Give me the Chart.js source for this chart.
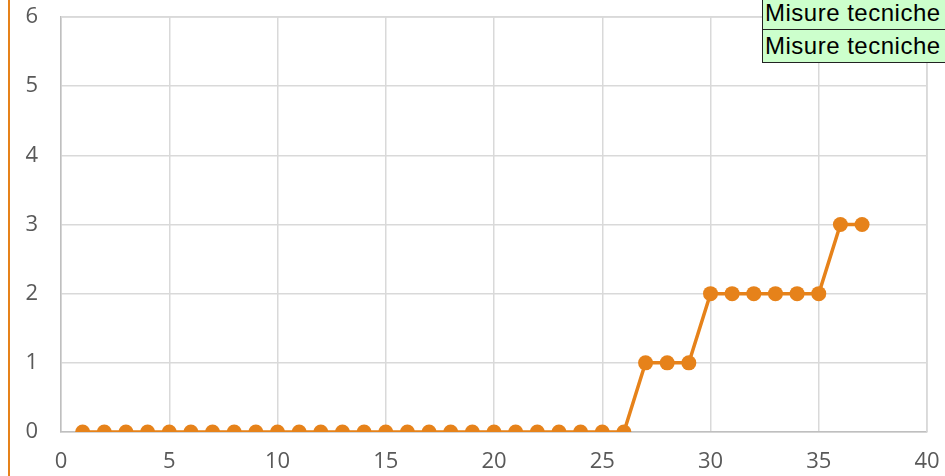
<!DOCTYPE html>
<html>
<head>
<meta charset="utf-8">
<script src="https://cdn.jsdelivr.net/npm/chart.js@4/dist/chart.umd.min.js"></script>
<style>
    html, body { margin: 0; padding: 0; background: #fff; }
    #wrap { position: relative; width: 945px; height: 476px; overflow: hidden; }
    #edge { position: absolute; left: 8px; top: 0; width: 2px; height: 476px; background: #E6821A; }
    .note {
        position: absolute; left: 762px; width: 220px; height: 34px;
        background: #ccffcc; border: 1px solid #222; box-sizing: border-box;
        font-family: "Liberation Sans", Arial, sans-serif; font-size: 24px;
        letter-spacing: 0.5px; line-height: 32px; padding-left: 2px; white-space: nowrap;
        color: #000;
    }
</style>
</head>
<body>
<div id="wrap">
    <canvas id="chart" width="945" height="476"></canvas>
    <div id="edge"></div>
    <div class="note" style="top:-4px">Misure tecniche</div>
    <div class="note" style="top:29px">Misure tecniche</div>
</div>
<script>
// data
const xValues = [1, 2, 3, 4, 5, 6, 7, 8, 9, 10, 11, 12, 13, 14, 15, 16, 17, 18, 19, 20,
                 21, 22, 23, 24, 25, 26, 27, 28, 29, 30, 31, 32, 33, 34, 35, 36, 37];
const yValues = [0, 0, 0, 0, 0, 0, 0, 0, 0, 0, 0, 0, 0, 0, 0, 0, 0, 0, 0, 0,
                 0, 0, 0, 0, 0, 0, 1, 1, 1, 2, 2, 2, 2, 2, 2, 3, 3];
const xTicks = [0, 5, 10, 15, 20, 25, 30, 35, 40];
const yTicks = [0, 1, 2, 3, 4, 5, 6];

const orange = '#E6821A';
const tickFont = { family: 'Open Sans, Lato, sans-serif', size: 22 };

function initChart() {
    const ctx = document.getElementById('chart').getContext('2d');
    new Chart(ctx, {
        type: 'scatter',
        data: {
            datasets: [{
                data: xValues.map((x, i) => ({ x: x, y: yValues[i] })),
                showLine: true,
                borderColor: orange,
                backgroundColor: orange,
                borderWidth: 3.5,
                pointRadius: 7.5,
                pointBorderWidth: 0,
                tension: 0
            }]
        },
        options: {
            responsive: false,
            animation: false,
            layout: { padding: { top: 17, right: 18, left: 0, bottom: 0 } },
            plugins: { legend: { display: false }, tooltip: { enabled: false } },
            scales: {
                x: {
                    type: 'linear',
                    min: 0, max: 40,
                    afterBuildTicks: axis => { axis.ticks = xTicks.map(v => ({ value: v })); },
                    afterFit: axis => {
                        axis.height = 44;
                        axis.paddingLeft = 0;
                        axis.paddingRight = 0;
                    },
                    grid: { color: '#d9d9d9', lineWidth: 1.5, drawTicks: false },
                    border: { color: '#bfbfbf', width: 1.5 },
                    ticks: { color: '#595959', font: tickFont, padding: 17, maxRotation: 0 }
                },
                y: {
                    min: 0, max: 6,
                    afterBuildTicks: axis => { axis.ticks = yTicks.map(v => ({ value: v })); },
                    afterFit: axis => {
                        axis.width = 61;
                        axis.paddingTop = 0;
                        axis.paddingBottom = 0;
                    },
                    grid: { color: '#d9d9d9', lineWidth: 1.5, drawTicks: false },
                    border: { color: '#bfbfbf', width: 1.5 },
                    ticks: { color: '#595959', font: tickFont, padding: 23 }
                }
            }
        },
        plugins: [{
            // right and top edge of plot area
            id: 'frame',
            afterDraw(chart) {
                const a = chart.chartArea;
                const c = chart.ctx;
                c.save();
                c.strokeStyle = '#d9d9d9';
                c.lineWidth = 1.5;
                c.beginPath();
                c.moveTo(a.left, a.top);
                c.lineTo(a.right, a.top);
                c.lineTo(a.right, a.bottom);
                c.stroke();
                c.restore();
            }
        }]
    });
}

document.addEventListener('DOMContentLoaded', initChart);
</script>
</body>
</html>
